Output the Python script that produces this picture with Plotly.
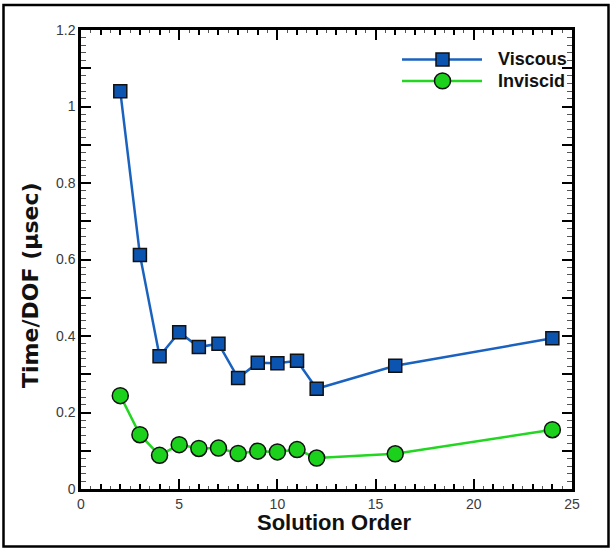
import plotly.graph_objects as go

# Solution order (polynomial degree) and cost per degree of freedom
orders = [2, 3, 4, 5, 6, 7, 8, 9, 10, 11, 12, 16, 24]
viscous = [1.04, 0.612, 0.347, 0.410, 0.371, 0.380, 0.290, 0.330, 0.329, 0.335, 0.262, 0.322, 0.394]
inviscid = [0.244, 0.142, 0.088, 0.116, 0.106, 0.107, 0.093, 0.099, 0.097, 0.103, 0.081, 0.092, 0.155]
series_names = ["Viscous", "Inviscid"]

x_range = [0, 25]
y_range = [0, 1.2]

W, H = 612, 549
ML, MR, MT, MB = 81, 40, 29.5, 59.5
PW, PH = W - ML - MR, H - MT - MB


def px(x):
    return (x - ML) / PW


def py(y):
    return (H - MB - y) / PH


blue_line, blue_fill = "#1a62bf", "#0b55b0"
green_line, green_fill = "#22d622", "#1bd11b"

fig = go.Figure()
fig.add_trace(go.Scatter(
    x=orders, y=viscous, name=series_names[0], mode="lines+markers",
    line=dict(color=blue_line, width=2.5),
    marker=dict(symbol="square", size=13, color=blue_fill,
                line=dict(color="#111111", width=1.5)),
))
fig.add_trace(go.Scatter(
    x=orders, y=inviscid, name=series_names[1], mode="lines+markers",
    line=dict(color=green_line, width=2.5),
    marker=dict(symbol="circle", size=16, color=green_fill,
                line=dict(color="#111111", width=1.5)),
))

tick_font = dict(family="Liberation Sans, Arial, sans-serif", size=14, color="#3a3a3a")

fig.update_layout(
    width=W, height=H,
    margin=dict(l=ML, r=MR, t=MT, b=MB),
    paper_bgcolor="white", plot_bgcolor="white",
    showlegend=False,
    xaxis=dict(
        range=x_range, dtick=5, tick0=0,
        showgrid=False, zeroline=False,
        showline=True, linecolor="black", linewidth=2.5, mirror="ticks",
        ticks="inside", ticklen=10, tickwidth=2, tickcolor="black",
        minor=dict(dtick=0.5, ticks="inside", ticklen=3, tickwidth=1, tickcolor="#555555"),
        tickfont=tick_font,
    ),
    yaxis=dict(
        range=y_range, dtick=0.2, tick0=0,
        showgrid=False, zeroline=False,
        showline=True, linecolor="black", linewidth=2.5, mirror="ticks",
        ticks="inside", ticklen=10, tickwidth=2, tickcolor="black",
        minor=dict(dtick=0.02, ticks="inside", ticklen=5, tickwidth=1, tickcolor="#555555"),
        tickfont=tick_font,
    ),
    # intermediate tick level (every 1 on x, every 0.1 on y)
    xaxis2=dict(
        range=x_range, overlaying="x", anchor="y", side="bottom",
        dtick=1, tick0=0, showgrid=False, zeroline=False, showline=False,
        ticks="inside", ticklen=5, tickwidth=1.5, tickcolor="black",
        mirror="ticks", showticklabels=False,
    ),
    yaxis2=dict(
        range=y_range, overlaying="y", anchor="x", side="left",
        dtick=0.1, tick0=0, showgrid=False, zeroline=False, showline=False,
        ticks="inside", ticklen=10, tickwidth=2, tickcolor="black",
        mirror="ticks", showticklabels=False,
    ),
)

# invisible trace so the overlay axes get drawn
fig.add_trace(go.Scatter(x=[None], y=[None], xaxis="x2", yaxis="y2",
                         showlegend=False, hoverinfo="skip"))

# axis titles
fig.add_annotation(
    xref="paper", yref="paper", x=px(31), y=py(286),
    text="<b>Time/DOF (μsec)</b>", textangle=-90, showarrow=False,
    font=dict(family="DejaVu Sans, sans-serif", size=22, color="#111111"),
    xanchor="center", yanchor="middle",
)
fig.add_annotation(
    xref="paper", yref="paper", x=px(334), y=py(523),
    text="<b>Solution Order</b>", showarrow=False,
    font=dict(family="Liberation Sans, Arial, sans-serif", size=22, color="#111111"),
    xanchor="center", yanchor="middle",
)

# legend: long line samples with the marker in the middle
legend_rows = [
    (series_names[0], 59, blue_line, blue_fill, "rect", 13),
    (series_names[1], 80.5, green_line, green_fill, "circle", 16),
]
for name, yy, lc, fc, shape, size in legend_rows:
    fig.add_shape(type="line", xref="paper", yref="paper",
                  x0=px(402), x1=px(482), y0=py(yy), y1=py(yy),
                  line=dict(color=lc, width=2.5))
    h = size / 2
    fig.add_shape(type=shape, xref="paper", yref="paper",
                  x0=px(442.5 - h), x1=px(442.5 + h), y0=py(yy + h), y1=py(yy - h),
                  line=dict(color="#111111", width=1.5), fillcolor=fc)
    fig.add_annotation(xref="paper", yref="paper", x=px(496), y=py(yy),
                       text=f"<b>{name}</b>", showarrow=False,
                       xanchor="left", yanchor="middle",
                       font=dict(family="Liberation Sans, Arial, sans-serif", size=18, color="#111111"))

# outer frame around the whole figure
fig.add_shape(type="rect", xref="paper", yref="paper",
              x0=px(3.5), x1=px(608.5), y0=py(547), y1=py(4.5),
              line=dict(color="black", width=2.5), fillcolor="rgba(0,0,0,0)")

fig.write_html("out.html")
